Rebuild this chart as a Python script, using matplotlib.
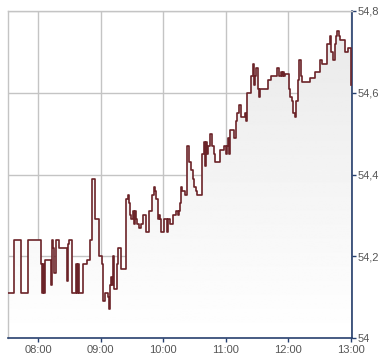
import numpy as np
import pandas as pd
import matplotlib
matplotlib.use("Agg")
import matplotlib.pyplot as plt
import matplotlib.dates as mdates
from matplotlib.ticker import FuncFormatter

plt.rcParams['font.family'] = ['Liberation Sans', 'DejaVu Sans']

# Kursverlauf (Zeit, Kurs)
times = [
    "07:31", "07:37", "07:44", "07:50", "08:03", "08:04", "08:05", "08:06", "08:07",
    "08:12", "08:13", "08:14", "08:15", "08:17", "08:20", "08:28", "08:29", "08:30",
    "08:33", "08:36", "08:37", "08:38", "08:39", "08:43", "08:47", "08:50", "08:52",
    "08:55", "08:59", "09:01", "09:02", "09:04", "09:07", "09:08", "09:09", "09:10",
    "09:11", "09:12", "09:13", "09:16", "09:17", "09:20", "09:24", "09:26", "09:27",
    "09:28", "09:29", "09:31", "09:32", "09:33", "09:34", "09:35", "09:37", "09:39",
    "09:41", "09:44", "09:47", "09:49", "09:51", "09:52", "09:53", "09:55", "09:56",
    "09:57", "09:58", "10:01", "10:04", "10:05", "10:07", "10:10", "10:12", "10:14",
    "10:15", "10:16", "10:17", "10:18", "10:21", "10:23", "10:25", "10:27", "10:29",
    "10:30", "10:32", "10:33", "10:37", "10:39", "10:40", "10:41", "10:42", "10:43",
    "10:45", "10:47", "10:49", "10:50", "10:55", "10:59", "11:00", "11:01", "11:02",
    "11:03", "11:04", "11:08", "11:10", "11:11", "11:13", "11:15", "11:19", "11:20",
    "11:21", "11:24", "11:26", "11:27", "11:28", "11:29", "11:31", "11:32", "11:33",
    "11:41", "11:44", "11:49", "11:51", "11:53", "11:54", "11:55", "11:56", "11:57",
    "12:01", "12:02", "12:04", "12:05", "12:07", "12:08", "12:10", "12:11", "12:12",
    "12:13", "12:21", "12:26", "12:31", "12:33", "12:37", "12:40", "12:41", "12:43",
    "12:45", "12:46", "12:47", "12:49", "12:50", "12:55", "12:58", "13:00",
]
prices = [
    54.11, 54.24, 54.11, 54.24, 54.18, 54.11, 54.18, 54.11, 54.19,
    54.13, 54.24, 54.22, 54.16, 54.24, 54.22, 54.14, 54.23, 54.24,
    54.11, 54.18, 54.11, 54.18, 54.11, 54.18, 54.19, 54.24, 54.39,
    54.29, 54.20, 54.18, 54.09, 54.11, 54.10, 54.07, 54.13, 54.15,
    54.13, 54.20, 54.12, 54.18, 54.22, 54.17, 54.34, 54.35, 54.33,
    54.30, 54.29, 54.31, 54.28, 54.31, 54.29, 54.28, 54.27, 54.28,
    54.30, 54.26, 54.31, 54.35, 54.37, 54.36, 54.34, 54.29, 54.30,
    54.29, 54.26, 54.29, 54.26, 54.29, 54.28, 54.30, 54.31, 54.30,
    54.31, 54.33, 54.37, 54.36, 54.35, 54.47, 54.43, 54.41, 54.39,
    54.37, 54.36, 54.35, 54.45, 54.48, 54.42, 54.48, 54.45, 54.47,
    54.50, 54.47, 54.45, 54.43, 54.46, 54.47, 54.45, 54.47, 54.49,
    54.45, 54.51, 54.49, 54.53, 54.55, 54.57, 54.54, 54.55, 54.53,
    54.60, 54.64, 54.67, 54.62, 54.64, 54.66, 54.61, 54.59, 54.61,
    54.63, 54.64, 54.66, 54.64, 54.65, 54.64, 54.65, 54.64, 54.645,
    54.61, 54.59, 54.58, 54.55, 54.54, 54.58, 54.63, 54.68, 54.64,
    54.627, 54.635, 54.65, 54.68, 54.67, 54.72, 54.74, 54.70, 54.68,
    54.72, 54.74, 54.75, 54.74, 54.73, 54.70, 54.71, 54.62,
]
y_ticks = [54.0, 54.2, 54.4, 54.6, 54.8]
x_ticks = ["08:00", "09:00", "10:00", "11:00", "12:00", "13:00"]

day = "2024-01-01 "
t = pd.to_datetime([day + s for s in times])
x = mdates.date2num(t)
y = np.array(prices)

fig = plt.figure(figsize=(3.9, 3.64), dpi=100)
ax = fig.add_axes([8 / 390, 26 / 364, 344 / 390, 327 / 364])

line_col = '#6b2328'
navy = '#27406e'
grid_col = '#c4c4c4'

x0 = mdates.date2num(pd.Timestamp(day + "07:31:10"))
x1 = mdates.date2num(pd.Timestamp(day + "13:01:25"))

# Verlauf unter der Linie
fill = ax.fill_between(x, y, 54.0, step='post', facecolor='none', edgecolor='none')
grad = np.linspace(0.91, 1.0, 256).reshape(-1, 1)
img = ax.imshow(grad, cmap='gray', vmin=0, vmax=1, aspect='auto',
                extent=[x0, x1, 54.0, 54.8], origin='upper', zorder=1)
img.set_clip_path(fill.get_paths()[0], transform=ax.transData)

ax.step(x, y, where='post', color=line_col, lw=1.2, zorder=3)

ax.set_xlim(x0, x1)
ax.set_ylim(54.0, 54.8)

# Achsen
ax.set_xticks(mdates.date2num(pd.to_datetime([day + s for s in x_ticks])))
ax.set_xticklabels(x_ticks)
ax.set_yticks(y_ticks)
ax.yaxis.set_major_formatter(FuncFormatter(lambda v, p: f"{v:g}".replace('.', ',')))
ax.yaxis.tick_right()
ax.grid(True, color=grid_col, lw=1, zorder=0)
ax.set_axisbelow(True)

for side in ['top', 'left']:
    ax.spines[side].set_color(grid_col)
    ax.spines[side].set_linewidth(1)
for side in ['bottom', 'right']:
    ax.spines[side].set_color(navy)
    ax.spines[side].set_linewidth(1.2)

ax.tick_params(axis='both', colors=navy, labelcolor='#555555', labelsize=8,
               length=3, width=1, direction='out')
ax.tick_params(axis='y', pad=1)
ax.tick_params(axis='x', pad=2)

fig.savefig("out.png", dpi=100)
